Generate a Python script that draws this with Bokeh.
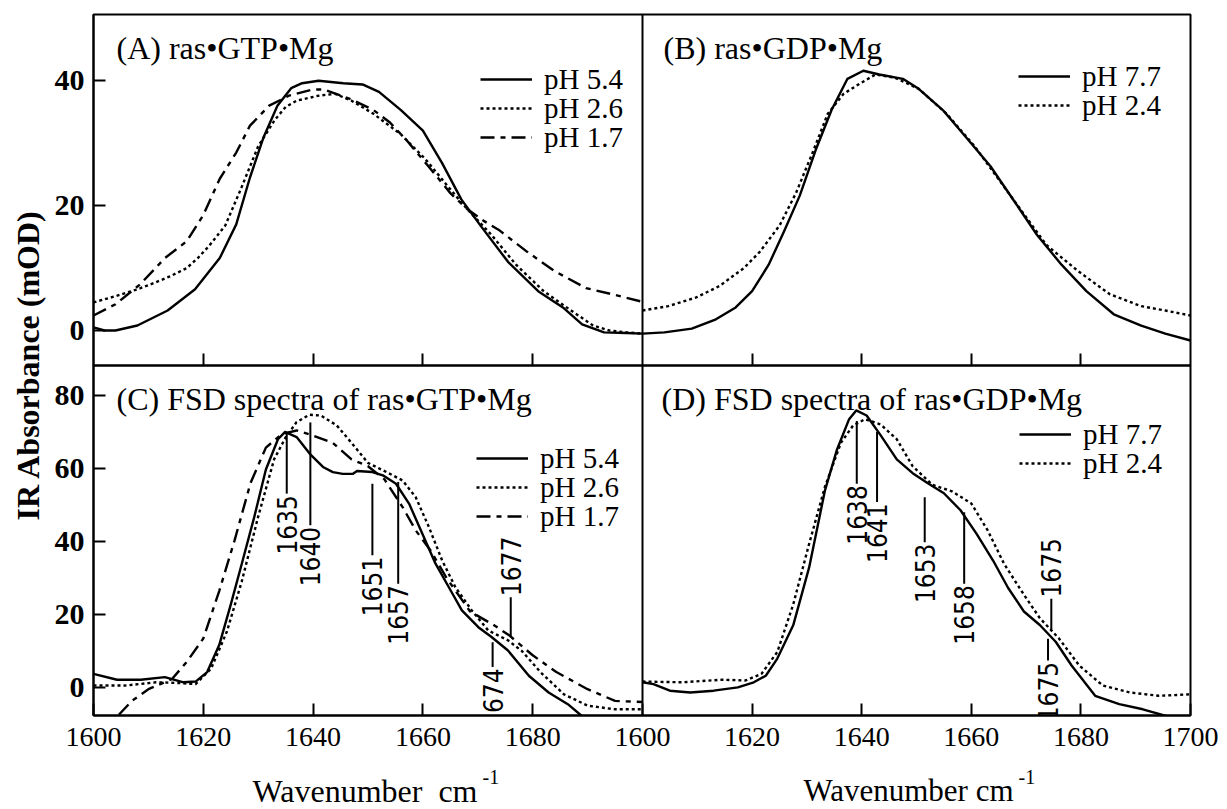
import math
from bokeh.plotting import figure
from bokeh.layouts import column
from bokeh.models import (Range1d, LinearAxis, FixedTicker, Span, Label, Legend,
                          CustomJSTickFormatter)
from bokeh.embed import file_html
from bokeh.resources import INLINE
from bokeh.core.properties import value

# ---------------- data ----------------
# (A) ras•GTP•Mg absorbance
a_wn_54 = [1600, 1602, 1604, 1608, 1613.5, 1618.5, 1623, 1626, 1628.5, 1631, 1633.5, 1636, 1638, 1641,
           1645.5, 1649, 1652, 1656, 1660, 1663.5, 1667, 1670.5, 1675.5, 1681, 1685.5, 1689, 1693, 1697, 1700]
a_ab_54 = [0.5, 0.0, 0.0, 0.8, 3.2, 6.6, 11.6, 17.0, 24.5, 31.0, 36.0, 38.8, 39.6, 40.0,
           39.6, 39.4, 38.2, 35.3, 32.0, 26.8, 21.0, 16.8, 11.0, 6.3, 3.7, 1.0, -0.3, -0.4, -0.5]
a_wn_26 = [1600, 1604, 1608, 1611, 1614, 1617, 1619, 1621, 1624, 1627, 1630, 1633, 1635, 1637, 1641, 1644,
           1647, 1651, 1656, 1660.5, 1665, 1668, 1672.5, 1677, 1682, 1687, 1691, 1694, 1697, 1700]
a_ab_26 = [4.5, 5.5, 6.6, 7.6, 8.7, 10.0, 11.6, 13.5, 16.8, 23.0, 29.5, 33.7, 35.8, 36.8, 37.6, 37.9,
           36.8, 34.7, 31.4, 27.4, 22.6, 19.5, 15.3, 10.5, 6.3, 3.2, 0.8, 0.0, -0.3, -0.5]
a_wn_17 = [1600, 1604, 1608.5, 1613, 1617, 1620, 1623, 1626, 1628.5, 1632, 1635.6, 1640, 1642, 1647, 1651,
           1654, 1657, 1661, 1665, 1668, 1671, 1674, 1679, 1684, 1689.7, 1694.5, 1700]
a_ab_17 = [2.4, 4.2, 7.4, 11.6, 14.3, 18.5, 24.3, 28.5, 32.8, 36.0, 37.6, 38.6, 38.6, 37.0, 35.3,
           33.3, 30.5, 26.3, 22.0, 19.5, 17.6, 16.0, 12.6, 9.5, 6.8, 5.8, 4.6]

# (B) ras•GDP•Mg absorbance
b_wn_77 = [1600, 1604, 1609, 1613.4, 1617, 1620, 1623, 1625.8, 1628.7, 1631.6, 1634.5, 1637.4, 1640.3, 1643.2,
           1647.5, 1650.4, 1654.8, 1659, 1663.5, 1668, 1672, 1676.5, 1681, 1686, 1691, 1695.4, 1700]
b_ab_77 = [-0.5, -0.3, 0.3, 1.8, 3.7, 6.3, 10.5, 15.8, 21.6, 28.9, 35.3, 40.3, 41.6, 41.0,
           40.3, 38.7, 35.3, 31.0, 26.3, 20.5, 15.3, 10.5, 6.3, 2.6, 0.8, -0.5, -1.6]
b_wn_24 = [1600, 1604.7, 1609.8, 1614, 1618.5, 1621.4, 1625, 1628, 1631, 1633.8, 1636.7, 1639.6, 1642.5,
           1646, 1650.4, 1655.5, 1660.6, 1665, 1669.3, 1673.7, 1679.5, 1685.3, 1691, 1695.4, 1700]
b_ab_24 = [3.2, 3.9, 5.3, 7.1, 10.0, 12.6, 16.8, 22.0, 28.4, 34.7, 37.9, 39.5, 41.0,
           40.5, 38.7, 34.7, 29.5, 24.2, 19.0, 13.7, 9.5, 5.8, 3.9, 3.2, 2.4]

# (C) FSD spectra of ras•GTP•Mg
c_wn_54 = [1600, 1604.3, 1608.6, 1613, 1616.4, 1618.6, 1620.7, 1622.9, 1625, 1627, 1629.3, 1631.4, 1633.6,
           1634.9, 1637, 1639.4, 1641.8, 1643.6, 1645.4, 1647.2, 1648, 1650.8, 1652.7, 1655.1, 1657.5,
           1659.9, 1662.3, 1664.7, 1667.1, 1670.1, 1672.5, 1675.5, 1679.3, 1682.9, 1686.4, 1689, 1694, 1700]
c_ab_54 = [3.7, 2.1, 2.1, 2.8, 1.4, 1.6, 4.2, 11.6, 22.7, 33.8, 46.8, 59.7, 68.0,
           70.0, 68.6, 64.0, 60.4, 59.0, 58.5, 58.5, 59.3, 59.0, 58.1, 55.8, 50.3,
           42.1, 33.9, 27.5, 21.1, 16.5, 13.8, 10.1, 3.2, -1.4, -4.6, -7.9, -11.0, -13.0]
c_wn_26 = [1600, 1605.7, 1611.4, 1615.7, 1618.6, 1621.4, 1624.3, 1627, 1630, 1632.9, 1635, 1637, 1639.3,
           1641.4, 1644.3, 1647, 1650, 1652.7, 1656.3, 1658.7, 1661.1, 1663.5, 1665.9, 1668.9, 1671.9,
           1675.5, 1678, 1681.4, 1685.7, 1690, 1695, 1700]
c_ab_26 = [0.5, 0.5, 1.4, 1.2, 0.9, 5.1, 15.3, 29.0, 46.8, 62.5, 68.5, 72.7, 74.7,
           74.5, 71.8, 67.0, 61.5, 59.5, 56.7, 52.1, 43.9, 34.8, 27.5, 21.1, 15.6,
           12.9, 10.0, 4.2, -1.9, -5.0, -6.0, -6.0]
c_wn_17 = [1601, 1604.3, 1607, 1610, 1614.3, 1617, 1620, 1622.9, 1625.7, 1628.6, 1631.4, 1634.3, 1637,
           1640, 1643.6, 1647, 1650, 1653, 1656.3, 1658.7, 1661.4, 1664.3, 1668.6, 1672.9, 1675.7,
           1680, 1684.3, 1690, 1695, 1700]
c_ab_17 = [-14.0, -8.0, -3.7, -0.5, 2.3, 7.0, 13.4, 26.4, 40.3, 56.0, 65.7, 69.4, 70.4,
           69.0, 67.0, 62.5, 60.6, 57.0, 49.4, 43.0, 37.5, 30.0, 20.8, 17.1, 14.3,
           8.8, 4.2, -0.5, -3.7, -4.0]

# (D) FSD spectra of ras•GDP•Mg
d_wn_77 = [1600, 1602, 1605, 1608.7, 1613, 1617.4, 1620.3, 1622.5, 1624.6, 1627.5, 1630.4, 1633.3, 1635.5,
           1637.7, 1639, 1640.9, 1643.5, 1646.4, 1649.3, 1652, 1655, 1658, 1661, 1664, 1666.7, 1669.6,
           1672.5, 1675.4, 1678.3, 1682.6, 1687, 1691.3, 1695.7, 1700]
d_ab_77 = [1.4, 0.9, -0.9, -1.4, -0.9, 0.0, 1.4, 3.2, 7.9, 17.0, 32.8, 54.0, 65.2,
           73.5, 75.9, 74.5, 69.0, 62.5, 58.7, 56.0, 53.2, 48.6, 42.0, 34.7, 27.3, 20.8,
           17.1, 12.5, 6.0, -2.3, -4.6, -6.0, -7.9, -8.8]
d_wn_24 = [1600, 1607.2, 1614.5, 1618.8, 1621.7, 1624.6, 1627.5, 1630.4, 1633.3, 1636.2, 1638.4, 1640.6,
           1643.5, 1646.4, 1649.3, 1652.9, 1656.5, 1660, 1663, 1666, 1669.6, 1672.5, 1676, 1679.7,
           1684, 1689, 1694.2, 1700]
d_ab_24 = [1.6, 1.4, 2.1, 1.9, 3.7, 9.7, 22.7, 39.3, 55.0, 67.0, 71.7, 73.5,
           72.0, 68.0, 60.6, 55.5, 53.7, 50.4, 43.0, 33.8, 25.4, 19.0, 13.4, 6.0,
           0.5, -1.4, -2.3, -1.9]

# peak annotations (label, position, connector top / bottom in mOD)
c_pk_lab = ["1635", "1640", "1651", "1657", "1674"]
c_pk_x = [1635.2, 1639.5, 1650.8, 1655.5, 1672.7]
c_pk_top = [69.5, 72.6, 55.8, 56.3, 12.4]
c_pk_bot = [53.1, 44.4, 36.2, 28.4, 5.6]
c_up_lab = ["1677"]
c_up_x = [1676.0]
c_up_top = [24.7]
c_up_bot = [13.8]

d_pk_lab = ["1638", "1641", "1653", "1658", "1675"]
d_pk_x = [1639.1, 1642.8, 1651.5, 1658.7, 1674.0]
d_pk_top = [73.0, 70.0, 52.1, 48.0, 13.3]
d_pk_bot = [55.8, 50.8, 39.8, 28.4, 7.4]
d_up_lab = ["1675"]
d_up_x = [1674.6]
d_up_top = [24.3]
d_up_bot = [15.6]

top_xticks = [1620, 1640, 1660, 1680]
c_xticks = [1600, 1620, 1640, 1660, 1680]
d_xticks = [1600, 1620, 1640, 1660, 1680, 1700]
a_yticks = [0, 20, 40]
c_yticks = [0, 20, 40, 60, 80]

# ---------------- layout geometry ----------------
W, H = 1227, 809
H1 = 760                       # main figure height; the rest holds the x titles
FL, FR, FT, FB = 93, 1190, 14, 715
XDIV, YDIV = 642, 365
x_lo, x_hi = 1600, 1700
ya_lo, ya_hi = -5.6, 50.6
yc_lo, yc_hi = -7.7, 88.2

left_w, right_w = XDIV - FL, FR - XDIV
top_h, bot_h = YDIV - FT, FB - YDIV

xL = Range1d(x_lo, x_hi + right_w * (x_hi - x_lo) / left_w)
xR = Range1d(x_lo - left_w * (x_hi - x_lo) / right_w, x_hi)
yT = Range1d(ya_lo - bot_h * (ya_hi - ya_lo) / top_h, ya_hi)
yB = Range1d(yc_lo, yc_hi + top_h * (yc_hi - yc_lo) / bot_h)
kx = (xR.end - xR.start) / (xL.end - xL.start)
ky = (yB.end - yB.start) / (yT.end - yT.start)

p = figure(width=W, height=H1, x_range=xL, y_range=yT, x_axis_type=None, y_axis_type=None,
           output_backend="svg", toolbar_location=None,
           min_border_left=FL, min_border_right=W - FR, min_border_top=FT, min_border_bottom=H1 - FB)
p.extra_x_ranges = {"R": xR}
p.extra_y_ranges = {"B": yB}
p.outline_line_color = "black"
p.outline_line_width = 2
p.background_fill_color = "white"
p.border_fill_color = "white"

SERIF = "Liberation Serif"
NARROW = "Liberation Sans Narrow, DejaVu Sans Condensed, Liberation Sans"
SOLID, DOT, DASHDOT = "solid", "3 3", "14 6 5 6"


def curve(xs, ys, dash, xr="default", yr="default"):
    return p.line(xs, ys, line_color="black", line_width=2.4, line_dash=dash,
                  line_join="round", x_range_name=xr, y_range_name=yr)


rA = [curve(a_wn_54, a_ab_54, SOLID), curve(a_wn_26, a_ab_26, DOT), curve(a_wn_17, a_ab_17, DASHDOT)]
rB = [curve(b_wn_77, b_ab_77, SOLID, "R"), curve(b_wn_24, b_ab_24, DOT, "R")]
rC = [curve(c_wn_54, c_ab_54, SOLID, yr="B"), curve(c_wn_26, c_ab_26, DOT, yr="B"),
      curve(c_wn_17, c_ab_17, DASHDOT, yr="B")]
rD = [curve(d_wn_77, d_ab_77, SOLID, "R", "B"), curve(d_wn_24, d_ab_24, DOT, "R", "B")]


def annotate(xs, tops, bots, labels, above, xr, yr):
    p.segment(x0=xs, y0=tops, x1=xs, y1=bots, line_color="black", line_width=2,
              x_range_name=xr, y_range_name=yr)
    if above:
        ys, align = [t + 0.3 for t in tops], "left"
    else:
        ys, align = [b - 0.4 for b in bots], "right"
    p.text(x=xs, y=ys, text=labels, angle=math.pi / 2, text_align=align, text_baseline="middle",
           text_font=value(NARROW), text_font_size="26px", text_color="black",
           x_range_name=xr, y_range_name=yr)


annotate(c_pk_x, c_pk_top, c_pk_bot, c_pk_lab, False, "default", "B")
annotate(c_up_x, c_up_top, c_up_bot, c_up_lab, True, "default", "B")
annotate(d_pk_x, d_pk_top, d_pk_bot, d_pk_lab, False, "R", "B")
annotate(d_up_x, d_up_top, d_up_bot, d_up_lab, True, "R", "B")

# divider between left and right panels
p.add_layout(Span(location=x_hi, dimension="height", line_color="black", line_width=2))


def style_axis(ax, bold=False, size="28px"):
    ax.axis_line_color = "black"
    ax.axis_line_width = 2
    ax.major_tick_line_color = "black"
    ax.major_tick_line_width = 2
    ax.major_tick_in = 12
    ax.major_tick_out = 0
    ax.minor_tick_line_color = None
    ax.major_label_text_font = SERIF
    ax.major_label_text_font_size = size
    ax.major_label_text_font_style = "bold" if bold else "normal"
    ax.major_label_text_color = "black"


# tick marks along the middle divider (top panels, no labels)
for xr in ("default", "R"):
    ax = LinearAxis(x_range_name=xr, fixed_location=ya_lo, ticker=FixedTicker(ticks=top_xticks),
                    formatter=CustomJSTickFormatter(code="return ''"))
    style_axis(ax)
    p.add_layout(ax, "below")

# bottom axis: ticks of both lower panels, labelled in each panel's own wavenumbers
bx_ticks = c_xticks + [xL.start + (t - xR.start) / kx for t in d_xticks]
bx = LinearAxis(ticker=FixedTicker(ticks=bx_ticks), major_label_standoff=12,
                formatter=CustomJSTickFormatter(
                    args=dict(thr=x_hi - 10, l0=xL.start, r0=xR.start, k=kx),
                    code="const v = tick < thr ? tick : r0 + (tick - l0) * k; return Math.round(v).toString();"))
style_axis(bx)
p.add_layout(bx, "below")

# left axis: ticks of both left panels, labelled in each panel's own mOD
ly_ticks = a_yticks + [yT.start + (v - yB.start) / ky for v in c_yticks]
ly = LinearAxis(ticker=FixedTicker(ticks=ly_ticks), major_label_standoff=9,
                formatter=CustomJSTickFormatter(
                    args=dict(thr=ya_lo - 1, t0=yT.start, b0=yB.start, k=ky),
                    code="const v = tick > thr ? tick : b0 + (tick - t0) * k; return Math.round(v).toString();"),
                axis_label="IR Absorbance (mOD)", axis_label_text_font=SERIF,
                axis_label_text_font_style="bold", axis_label_text_font_size="32px",
                axis_label_text_color="black", axis_label_standoff=6)
style_axis(ly, bold=True, size="30px")
p.add_layout(ly, "left")

# panel titles
TB = 10   # baseline adjustment
for txt, x, y in [("(A) ras•GTP•Mg", 23, FB - 57 + TB), ("(B) ras•GDP•Mg", 570, FB - 57 + TB),
                  ("(C) FSD spectra of ras•GTP•Mg", 23, FB - 408 + TB),
                  ("(D) FSD spectra of ras•GDP•Mg", 568, FB - 408 + TB)]:
    p.add_layout(Label(x=x, y=y, x_units="screen", y_units="screen", text=txt, text_font=SERIF,
                       text_font_size="32px", text_color="black", text_baseline="alphabetic"))


# legends (one per row so that the rows can sit close together)
def legend_row(label, rend, x, yc):
    lg = Legend(items=[(label, [rend])], location=(x - FL, FB - yc - 17), border_line_color=None,
                background_fill_alpha=0, padding=0, margin=0, spacing=0, glyph_width=52,
                glyph_height=34, label_height=34, label_standoff=12, label_text_font=SERIF,
                label_text_font_size="29px", label_text_color="black")
    p.add_layout(lg)


for lab, r, yc in zip(["pH 5.4", "pH 2.6", "pH 1.7"], rA, [79, 108, 137]):
    legend_row(lab, r, 480, yc)
for lab, r, yc in zip(["pH 7.7", "pH 2.4"], rB, [76, 105]):
    legend_row(lab, r, 1018, yc)
for lab, r, yc in zip(["pH 5.4", "pH 2.6", "pH 1.7"], rC, [458, 487, 516]):
    legend_row(lab, r, 476, yc)
for lab, r, yc in zip(["pH 7.7", "pH 2.4"], rD, [434, 463]):
    legend_row(lab, r, 1019, yc)

# x axis titles in a strip below the plot
q = figure(width=W, height=H - H1, x_axis_type=None, y_axis_type=None, output_backend="svg",
           toolbar_location=None, min_border_left=FL, min_border_right=W - FR,
           min_border_top=0, min_border_bottom=0)
q.outline_line_color = None
q.background_fill_color = "white"
q.border_fill_color = "white"
for txt, xend, size in [("Wavenumber\u00a0\u00a0cm", 477 - FL, "32px"), ("Wavenumber cm", 1013 - FL, "31px")]:
    q.add_layout(Label(x=xend, y=H - 800 + TB, x_units="screen", y_units="screen", text=txt,
                       text_font=SERIF, text_font_size=size, text_color="black", text_align="right",
                       text_baseline="alphabetic"))
    q.add_layout(Label(x=xend + 5, y=H - 786 + TB, x_units="screen", y_units="screen", text="-1",
                       text_font=SERIF, text_font_size="20px", text_color="black", text_align="left",
                       text_baseline="alphabetic"))

layout = column(p, q, spacing=0)
open("out.html", "w").write(file_html(layout, INLINE))
